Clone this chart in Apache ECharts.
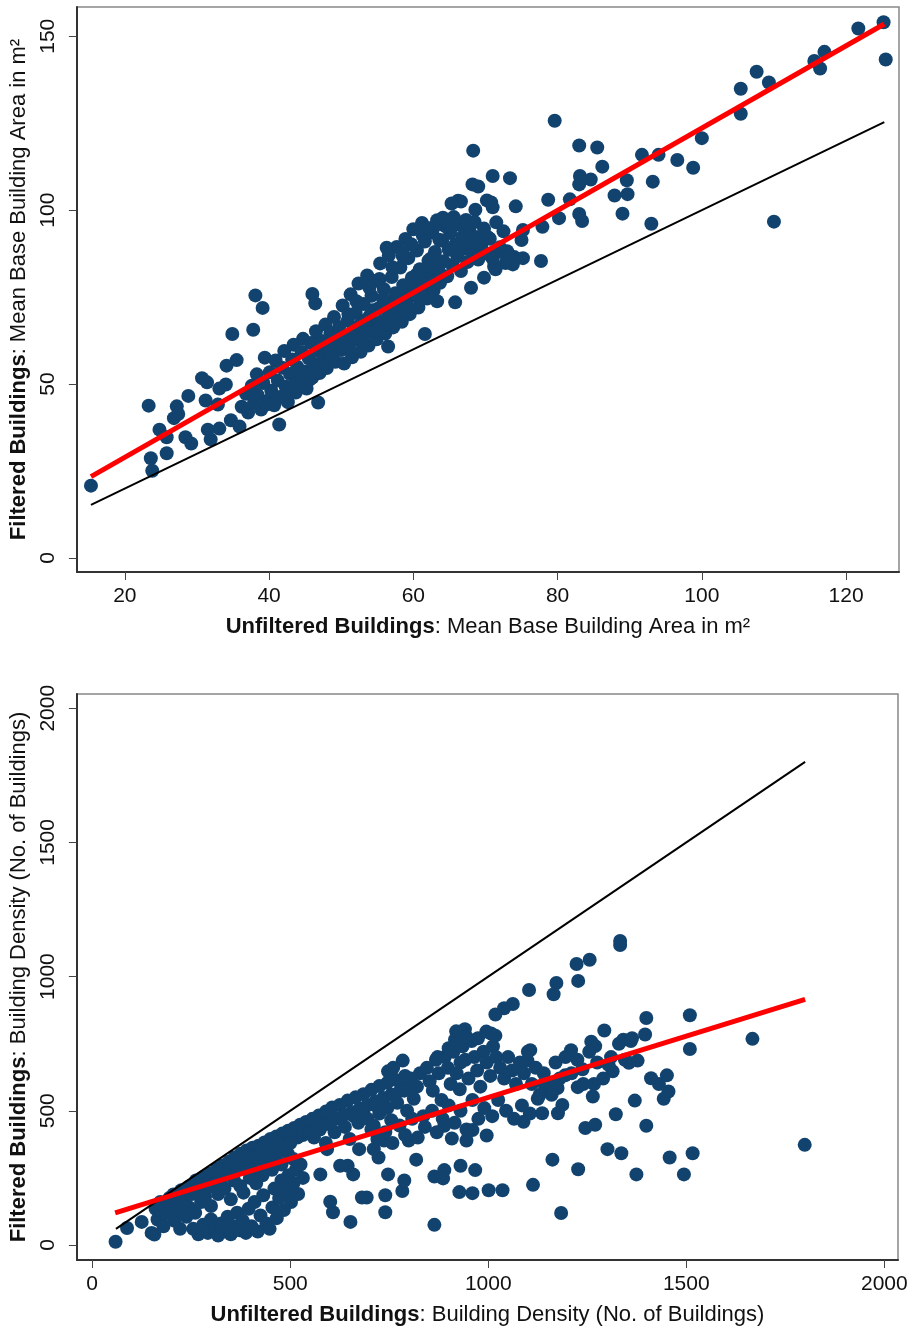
<!DOCTYPE html>
<html>
<head>
<meta charset="utf-8">
<script src="https://cdn.jsdelivr.net/npm/echarts@6/dist/echarts.min.js"></script>
<style>
  html, body { margin: 0; padding: 0; background: #fff; }
  #main { width: 912px; height: 1329px; }
</style>
</head>
<body>
<div id="main"></div>
<script>
// top panel: mean base building area (m2), unfiltered vs filtered
const areaXTicks = [20, 40, 60, 80, 100, 120];
const areaYTicks = [0, 50, 100, 150];
const areaPoints = [
  [15.3, 20.8], [23.6, 28.7], [23.8, 25.1], [23.3, 43.8], [25.8, 30.1], [24.8, 36.9],
  [25.8, 34.7], [26.8, 40.2], [27.2, 43.6], [27.4, 41.4], [28.4, 34.7], [29.2, 32.9],
  [28.8, 46.6], [30.7, 51.7], [31.4, 50.5], [31.2, 45.3], [31.5, 36.9], [31.9, 34.1],
  [32.9, 44.1], [33.1, 48.7], [33.1, 37.2], [34.0, 49.9], [34.1, 55.3], [34.7, 39.6],
  [34.9, 64.4], [35.5, 56.9], [35.9, 37.8], [37.8, 65.6], [38.1, 75.5], [39.1, 71.9],
  [41.4, 38.4], [46.0, 75.9], [46.4, 73.2], [46.8, 44.7], [56.5, 60.8], [61.6, 64.4],
  [65.8, 73.5], [68.0, 77.7], [63.3, 73.8], [69.8, 80.6], [71.4, 83.0], [72.8, 84.8],
  [74.0, 86.5], [71.2, 83.8], [73.8, 84.4], [70.8, 86.8], [72.2, 88.0], [70.3, 92.3],
  [68.6, 100.1], [66.6, 102.5], [68.2, 107.4], [69.0, 106.8], [70.2, 102.8], [70.8, 102.2],
  [71.0, 100.8], [68.3, 117.1], [71.0, 109.8], [73.4, 109.2], [74.2, 101.1], [75.0, 91.4],
  [75.2, 94.3], [75.2, 86.2], [77.7, 85.4], [77.9, 95.2], [78.7, 103.0], [79.6, 125.7],
  [80.2, 97.7], [81.7, 103.1], [83.0, 107.4], [83.1, 109.8], [84.6, 108.8], [83.0, 98.9],
  [83.4, 96.9], [83.0, 118.6], [85.5, 118.0], [86.2, 112.5], [87.9, 104.2], [89.0, 99.0],
  [89.7, 104.6], [89.6, 108.6], [91.7, 115.9], [93.2, 108.2], [93.0, 96.1], [94.0, 115.9],
  [96.6, 114.4], [98.8, 112.2], [100.0, 120.7], [105.4, 127.7], [105.4, 134.9], [107.6, 139.8],
  [109.3, 136.7], [110.0, 96.7], [115.6, 142.9], [116.4, 140.7], [117.0, 145.5], [121.7, 152.2],
  [125.2, 154.0], [125.5, 143.3],
  [36.2, 43.5], [36.8, 47.2], [37.1, 41.8], [37.6, 49.5], [37.9, 44.6], [38.3, 52.8],
  [38.4, 46.9], [38.9, 42.7], [39.2, 50.3], [39.4, 57.6], [39.8, 45.2], [40.1, 53.4],
  [40.3, 48.1], [40.7, 43.9], [40.9, 56.8], [41.2, 51.0], [41.5, 46.3], [41.8, 54.7],
  [42.1, 59.5], [42.3, 49.2], [42.6, 44.8], [42.9, 52.9], [43.2, 57.1], [43.4, 61.3],
  [43.7, 47.6], [43.9, 55.0], [44.2, 50.8], [44.5, 59.2], [44.7, 63.0], [45.0, 53.6],
  [45.2, 48.7], [45.5, 57.4], [45.8, 61.8], [46.0, 51.9], [46.2, 55.8], [46.5, 65.2],
  [46.7, 59.6], [47.0, 53.2], [47.3, 62.4], [47.5, 57.0], [47.8, 67.1], [48.0, 54.6],
  [48.2, 60.3], [48.5, 64.7], [48.7, 58.2], [49.0, 69.3], [49.2, 56.4], [49.4, 62.1],
  [49.7, 66.4], [50.0, 59.8], [50.2, 72.6], [50.4, 55.9], [50.6, 63.5], [50.9, 68.2],
  [51.1, 61.0], [51.3, 75.8], [51.5, 57.7], [51.8, 65.9], [52.0, 70.4], [52.2, 62.8],
  [52.4, 78.9], [52.7, 59.3], [52.9, 67.5], [53.1, 73.0], [53.3, 64.6], [53.6, 81.2],
  [53.8, 61.1], [54.0, 69.7], [54.2, 75.4], [54.5, 66.2], [54.7, 79.6], [54.9, 62.9],
  [55.2, 71.8], [55.4, 84.7], [55.6, 68.0], [55.9, 77.3], [56.1, 64.5], [56.3, 73.9],
  [56.6, 87.0], [56.8, 69.6], [57.0, 80.8], [57.2, 66.3], [57.5, 76.1], [57.7, 89.4],
  [57.9, 72.2], [58.2, 83.5], [58.4, 67.9], [58.6, 78.4], [58.9, 91.7], [59.1, 74.0],
  [59.3, 86.2], [59.5, 70.1], [59.8, 80.6], [60.0, 94.5], [60.2, 76.3], [60.5, 88.4],
  [60.7, 72.0], [60.9, 83.0], [61.2, 96.3], [61.4, 78.2], [61.6, 91.0], [61.9, 74.6],
  [62.1, 85.5], [62.3, 80.3], [62.6, 93.6], [62.8, 76.9], [63.0, 88.0], [63.3, 97.1],
  [63.5, 82.7], [63.7, 79.1], [64.0, 91.2], [64.2, 85.3], [64.4, 95.4], [64.7, 81.0],
  [64.9, 88.6], [65.1, 93.4], [65.4, 84.2], [65.6, 98.0], [65.8, 90.1], [66.1, 86.7],
  [66.3, 95.8], [66.6, 82.5], [66.8, 92.3], [67.0, 88.9], [67.3, 97.2], [67.5, 85.1],
  [67.8, 94.0], [68.0, 90.5], [68.3, 87.0], [68.5, 96.6], [68.8, 92.2], [69.0, 85.8],
  [69.4, 89.6], [69.8, 94.7], [70.2, 87.5], [70.6, 91.8], [71.0, 86.0], [71.5, 96.5],
  [72.0, 89.3], [72.5, 93.9], [73.0, 88.2],
  [49.5, 60.8], [50.8, 62.3], [51.6, 64.0], [52.5, 66.8], [53.4, 68.4], [54.3, 71.2],
  [55.0, 66.9], [55.8, 74.5], [56.5, 70.8], [57.4, 73.4], [58.0, 75.9], [58.8, 77.6],
  [59.6, 79.2], [60.4, 81.4], [61.0, 79.5], [61.8, 82.9], [62.5, 86.2], [63.2, 84.9],
  [53.0, 62.4], [54.8, 65.3], [56.0, 67.2], [57.9, 70.6], [59.0, 72.9], [60.6, 75.1],
  [48.6, 59.4], [47.4, 55.2], [46.4, 53.5], [45.6, 51.2], [44.6, 52.3], [43.5, 49.9],
  [42.4, 47.5], [41.1, 45.8], [39.6, 44.1], [51.0, 70.1], [52.1, 73.8], [53.9, 77.7],
  [55.3, 80.2], [57.1, 83.6], [58.5, 86.9], [59.7, 90.2], [61.3, 92.8], [62.9, 95.2],
  [64.1, 97.8], [65.3, 101.9], [66.2, 102.7], [64.8, 96.2], [62.0, 94.9], [63.6, 91.5],
  [56.3, 89.2], [58.5, 88.0]
];
const areaFit = [[15.3, 23.4], [125.3, 153.5]];
const areaDiag = [[15.3, 15.3], [125.3, 125.3]];

// bottom panel: building density (no. of buildings)
const densityTicks = [0, 500, 1000, 1500, 2000];
const densityPoints = [
  [59, 12], [88, 63], [125, 86], [157, 39], [1799, 373], [1667, 768], [1509, 856],
  [1509, 730], [1516, 342], [1494, 263], [1458, 326], [1451, 632], [1443, 545], [1455, 572],
  [1431, 600], [1411, 621], [1399, 846], [1396, 784], [1399, 444], [1374, 263], [1370, 538],
  [1377, 687], [1355, 679], [1363, 770], [1341, 765], [1333, 1118], [1333, 1133], [1336, 342],
  [1322, 487], [1314, 647], [1304, 671], [1293, 799], [1301, 357], [1270, 741], [1260, 757],
  [1256, 1063], [1223, 1047], [1227, 984], [1267, 600], [1264, 553], [1245, 436], [1270, 448],
  [1238, 655], [1226, 588], [1227, 282], [1209, 726], [1194, 632], [1187, 522], [1176, 491],
  [1172, 976], [1165, 934], [1175, 585], [1143, 592], [1136, 491], [1162, 318], [1184, 119],
  [1113, 224], [1103, 950], [1106, 726], [1099, 687], [1089, 459], [1062, 898], [1040, 882],
  [1018, 859], [1036, 204], [1001, 204], [1007, 788], [996, 408], [960, 428], [941, 804],
  [919, 796], [930, 295], [960, 193], [927, 197], [967, 279], [945, 389], [908, 397],
  [864, 75], [886, 248], [889, 279], [864, 255], [889, 444], [818, 318], [799, 389],
  [783, 201], [788, 240], [740, 122], [740, 185], [747, 263], [737, 389], [723, 326],
  [711, 357], [711, 444], [693, 177], [681, 177], [652, 86], [674, 357], [659, 263],
  [645, 295], [626, 295], [608, 122], [601, 161], [576, 263], [593, 357],
  [160, 135], [172, 160], [185, 142], [195, 175], [205, 188], [215, 158], [225, 204],
  [235, 178], [245, 218], [255, 198], [262, 240], [270, 214], [280, 252], [290, 228],
  [298, 266], [305, 240], [315, 284], [322, 255], [330, 296], [338, 268], [345, 310],
  [352, 284], [360, 326], [368, 296], [375, 340], [382, 308], [390, 352], [398, 318],
  [405, 362], [412, 330], [420, 370], [428, 340], [435, 382], [442, 350], [450, 395],
  [458, 362], [465, 404], [472, 372], [480, 415], [488, 380], [495, 426], [502, 392],
  [510, 436], [518, 400], [525, 448], [532, 410], [540, 458], [548, 420], [556, 470],
  [565, 432], [572, 482], [580, 445], [590, 497], [598, 458], [606, 512], [615, 470],
  [625, 522], [635, 484], [645, 538], [655, 495], [665, 550], [675, 508], [685, 562],
  [695, 522], [705, 578], [715, 535], [725, 592], [735, 548], [745, 604], [755, 560],
  [765, 616], [778, 575], [790, 630], [800, 590], [784, 687], [747, 647], [760, 660],
  [255, 60], [268, 40], [280, 75], [292, 45], [300, 95], [310, 60], [318, 35], [326, 80],
  [335, 50], [342, 105], [350, 40], [358, 70], [366, 120], [372, 55], [380, 90], [388, 45],
  [395, 135], [402, 70], [410, 160], [418, 50], [425, 110], [432, 185], [440, 80], [448, 60],
  [455, 140], [460, 210], [466, 100], [472, 175], [478, 240], [484, 130], [490, 200],
  [496, 260], [502, 160], [508, 230], [514, 280], [520, 190], [526, 300], [532, 250],
  [150, 45], [165, 95], [172, 130], [180, 70], [188, 115], [198, 150], [208, 90], [215, 130],
  [222, 60], [230, 165], [238, 105], [245, 140], [252, 190], [260, 120], [268, 205],
  [275, 160], [285, 180], [292, 215], [300, 145], [310, 230], [318, 190], [326, 250],
  [334, 210], [342, 265], [350, 170], [358, 240], [366, 285], [374, 220], [382, 195],
  [390, 300], [398, 250], [406, 280], [414, 230], [422, 320], [430, 260], [438, 300],
  [446, 340], [454, 280], [462, 330], [470, 355], [478, 300], [486, 370], [494, 340],
  [500, 380], [508, 320],
  [560, 400], [575, 430], [590, 380], [600, 450], [612, 420], [625, 470], [638, 440],
  [650, 395], [660, 480], [672, 455], [685, 500], [695, 470], [705, 430], [715, 520],
  [725, 490], [735, 545], [745, 510], [755, 465], [762, 560], [770, 530], [780, 600],
  [788, 575], [795, 500], [805, 620], [812, 545], [820, 590], [828, 640], [836, 480],
  [845, 660], [852, 610], [860, 575], [868, 690], [875, 640], [882, 540], [890, 700],
  [898, 660], [905, 600], [912, 720], [920, 640], [928, 580], [935, 740], [942, 690],
  [950, 620], [958, 760], [965, 700], [972, 650], [980, 590], [988, 720], [996, 680],
  [1005, 630], [1012, 740], [1020, 700], [1030, 660], [1040, 620], [1050, 700], [1060, 650],
  [1070, 600], [1080, 680], [1090, 640], [1100, 720], [1110, 600], [1120, 660], [1130, 560],
  [1140, 640], [1150, 600], [1160, 560], [1170, 680], [1180, 620], [1195, 700], [1210, 640],
  [1225, 690], [1240, 600], [1255, 720], [1275, 680], [1290, 620], [1310, 700], [1330, 750],
  [1345, 690], [1360, 760],
  [720, 395], [740, 420], [758, 380], [776, 445], [790, 410], [808, 470], [822, 400],
  [840, 440], [858, 500], [870, 420], [885, 470], [900, 520], [915, 455], [930, 500],
  [945, 430], [960, 540], [975, 470], [990, 510], [1010, 480], [1025, 540], [1045, 500],
  [1065, 470], [1085, 520], [1105, 490], [1125, 545],
  [916, 765], [930, 790], [945, 775], [974, 770], [995, 795], [1018, 780], [872, 700],
  [900, 733], [930, 680]
];
const densityFit = [[58, 120], [1800, 915]];
const densityDiag = [[60, 60], [1800, 1800]];

const navy = '#12436f';
const fontFamily = '"Liberation Sans", Arial, Helvetica, sans-serif';

function titleName(bold, rest) {
  return '{b|' + bold + '}' + rest;
}

// plain numbers, no thousands separators
function plainLabel(v) {
  return String(v);
}

function xAxisFor(grid, min, max, ticks, name) {
  return {
    type: 'value', gridIndex: grid, min: min, max: max, position: 'bottom',
    axisLine: { show: true, onZero: false, lineStyle: { color: '#333', width: 2 } },
    axisTick: { show: true, customValues: ticks, length: 8, lineStyle: { color: '#444', width: 1 } },
    axisLabel: { customValues: ticks, formatter: plainLabel, fontSize: 21, color: '#111', margin: 14, fontFamily: fontFamily },
    splitLine: { show: false },
    name: name, nameLocation: 'middle', nameGap: 44,
    nameTextStyle: {
      fontSize: 22, color: '#111', fontFamily: fontFamily,
      rich: { b: { fontSize: 22, fontWeight: 'bold', color: '#111', fontFamily: fontFamily } }
    }
  };
}

function yAxisFor(grid, min, max, ticks, name) {
  return {
    type: 'value', gridIndex: grid, min: min, max: max, position: 'left',
    axisLine: { show: true, onZero: false, lineStyle: { color: '#333', width: 2 } },
    axisTick: { show: true, customValues: ticks, length: 8, lineStyle: { color: '#444', width: 1 } },
    axisLabel: { customValues: ticks, formatter: plainLabel, rotate: 90, fontSize: 21, color: '#111', margin: 18, fontFamily: fontFamily },
    splitLine: { show: false },
    name: name, nameLocation: 'middle', nameGap: 46, nameRotate: 90,
    nameTextStyle: {
      fontSize: 22, color: '#111', fontFamily: fontFamily,
      rich: { b: { fontSize: 22, fontWeight: 'bold', color: '#111', fontFamily: fontFamily } }
    }
  };
}

const chart = echarts.init(document.getElementById('main'), null, { renderer: 'canvas' });

const option = {
  animation: false,
  backgroundColor: '#fff',
  grid: [
    { left: 76, top: 7, width: 823, height: 565, show: true, borderColor: '#888', borderWidth: 1.5, backgroundColor: '#fff' },
    { left: 76, top: 694, width: 822, height: 566, show: true, borderColor: '#888', borderWidth: 1.5, backgroundColor: '#fff' }
  ],
  xAxis: [
    xAxisFor(0, 13.35, 127.34, areaXTicks, titleName('Unfiltered Buildings', ': Mean Base Building Area in m²')),
    xAxisFor(1, -38.6, 2034.5, densityTicks, titleName('Unfiltered Buildings', ': Building Density (No. of Buildings)'))
  ],
  yAxis: [
    yAxisFor(0, -4.02, 158.4, areaYTicks, titleName('Filtered Buildings', ': Mean Base Building Area in m²')),
    yAxisFor(1, -56, 2053, densityTicks, titleName('Filtered Buildings', ': Building Density (No. of Buildings)'))
  ],
  series: [
    {
      type: 'scatter', xAxisIndex: 0, yAxisIndex: 0, data: areaPoints,
      symbolSize: 14, itemStyle: { color: navy, opacity: 1 }, z: 2
    },
    {
      type: 'line', xAxisIndex: 0, yAxisIndex: 0, data: areaDiag, symbol: 'none',
      lineStyle: { color: '#000', width: 2 }, z: 3
    },
    {
      type: 'line', xAxisIndex: 0, yAxisIndex: 0, data: areaFit, symbol: 'none',
      lineStyle: { color: '#ff0000', width: 5 }, z: 4
    },
    {
      type: 'scatter', xAxisIndex: 1, yAxisIndex: 1, data: densityPoints,
      symbolSize: 14, itemStyle: { color: navy, opacity: 1 }, z: 2
    },
    {
      type: 'line', xAxisIndex: 1, yAxisIndex: 1, data: densityDiag, symbol: 'none',
      lineStyle: { color: '#000', width: 2 }, z: 3
    },
    {
      type: 'line', xAxisIndex: 1, yAxisIndex: 1, data: densityFit, symbol: 'none',
      lineStyle: { color: '#ff0000', width: 5 }, z: 4
    }
  ]
};

chart.setOption(option);
</script>
</body>
</html>
